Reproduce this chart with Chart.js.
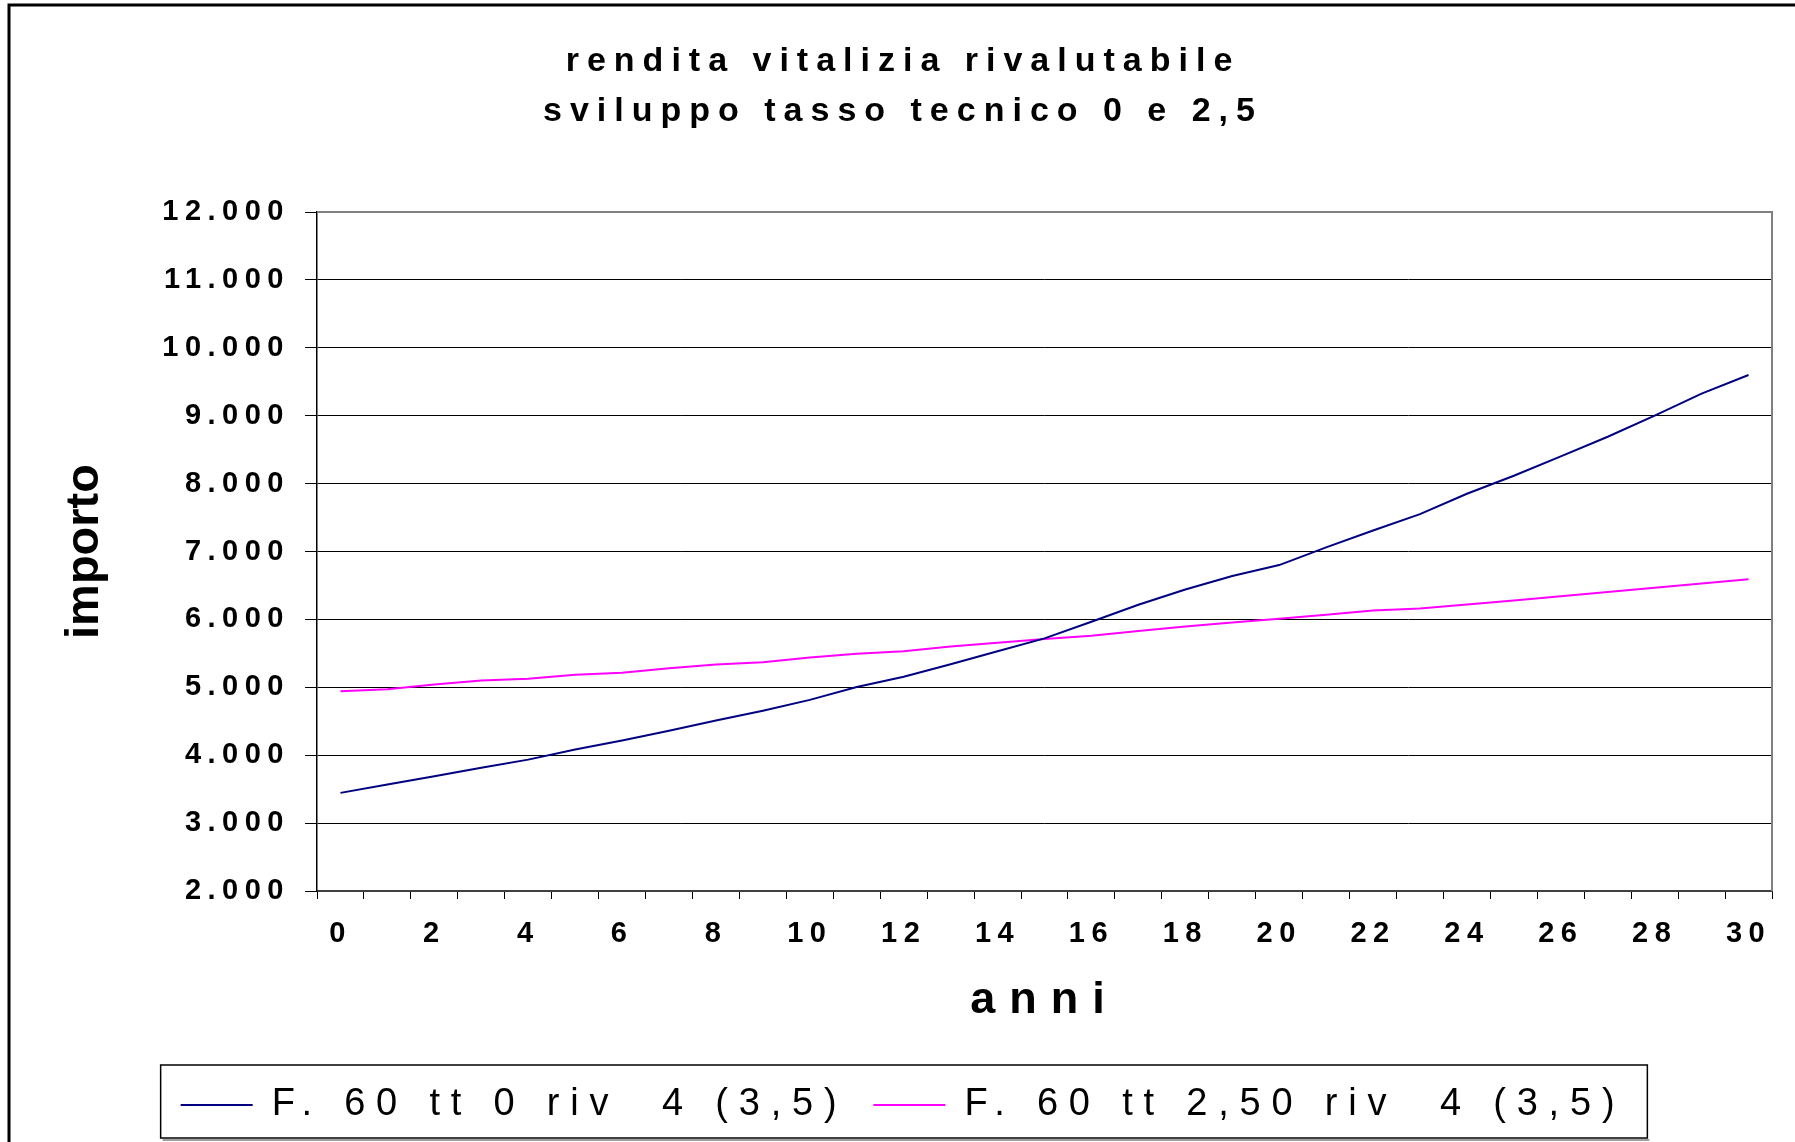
<!DOCTYPE html>
<html>
<head>
<meta charset="utf-8">
<script src="https://cdn.jsdelivr.net/npm/chart.js@4.4.1/dist/chart.umd.min.js"></script>
<style>
    html, body { margin: 0; padding: 0; background: #fff; }
    #wrap { position: relative; width: 1795px; height: 1142px; }
</style>
</head>
<body>
<div id="wrap"><canvas id="myChart"></canvas></div>
<script>
/* globals Chart:false */

// years on the x axis
const years = [0, 1, 2, 3, 4, 5, 6, 7, 8, 9, 10, 11, 12, 13, 14, 15,
    16, 17, 18, 19, 20, 21, 22, 23, 24, 25, 26, 27, 28, 29, 30]

// F. 60 tt 0 riv 4 (3,5)
const tt0 = [3445, 3570, 3690, 3815, 3935, 4085, 4215, 4360, 4510, 4655,
    4815, 5005, 5155, 5340, 5530, 5720, 5965, 6215, 6440, 6640,
    6800, 7060, 7310, 7550, 7850, 8115, 8400, 8690, 9000, 9325, 9600]

// F. 60 tt 2,50 riv 4 (3,5)
const tt250 = [4940, 4970, 5040, 5100, 5125, 5185, 5215, 5280, 5335, 5370,
    5440, 5495, 5530, 5600, 5655, 5710, 5760, 5830, 5895, 5955,
    6010, 6070, 6130, 6160, 6220, 6280, 6340, 6405, 6465, 6530, 6590]

const yTickLabels = ['2.000', '3.000', '4.000', '5.000', '6.000', '7.000',
    '8.000', '9.000', '10.000', '11.000', '12.000']

const seriesNames = ['F. 60 tt 0 riv  4 (3,5)', 'F. 60 tt 2,50 riv  4 (3,5)']
const titleLines = ['rendita vitalizia rivalutabile', 'sviluppo tasso tecnico 0 e 2,5']

const FONT = '"Liberation Sans", Arial, sans-serif'

// the old excel picture has very wide text, fake it with letter spacing per font size
const spacing = {34: 8, 29: 6.5, 38: 10.8, 45: 14}

const canvas = document.getElementById('myChart')
const ctx = canvas.getContext('2d')

function setSpacing(c) {
    const m = c.font.match(/(\d+(?:\.\d+)?)px/)
    const s = m ? (spacing[Math.round(parseFloat(m[1]))] || 0) : 0
    c.letterSpacing = s + 'px'
}
const origFill = ctx.fillText
ctx.fillText = function (...args) {
    setSpacing(this)
    return origFill.apply(this, args)
}
const origMeasure = ctx.measureText
ctx.measureText = function (...args) {
    setSpacing(this)
    return origMeasure.apply(this, args)
}

const framePlugin = {
    id: 'frame',
    beforeDraw(chart) {
        const c = chart.ctx
        c.save()
        c.strokeStyle = '#000'
        c.lineWidth = 3
        c.beginPath()
        c.moveTo(9, chart.height)
        c.lineTo(9, 5)
        c.lineTo(chart.width, 5)
        c.stroke()
        c.restore()
    },
    beforeDatasetsDraw(chart) {
        // top and right edge of the plot area are grey
        const a = chart.chartArea
        const c = chart.ctx
        c.save()
        c.strokeStyle = '#808080'
        c.lineWidth = 2
        c.beginPath()
        c.moveTo(a.left, a.top)
        c.lineTo(a.right, a.top)
        c.lineTo(a.right, a.bottom)
        c.stroke()
        c.restore()
    },
    afterDraw(chart) {
        // box round the legend
        const hb = chart.legend.legendHitBoxes
        if (!hb || !hb.length) return
        const l = Math.min(...hb.map(h => h.left)) - 20
        const r = Math.max(...hb.map(h => h.left + h.width)) + 22
        const t = hb[0].top - 21
        const c = chart.ctx
        c.save()
        c.strokeStyle = '#000'
        c.lineWidth = 1.5
        c.strokeRect(l, t, r - l, 73)
        c.strokeStyle = '#808080'
        c.beginPath()
        c.moveTo(l + 2, t + 75)
        c.lineTo(r + 2, t + 75)
        c.stroke()
        c.restore()
    }
}

const myChart = new Chart(canvas, {
    type: 'line',
    plugins: [framePlugin],
    data: {
        labels: years,
        datasets: [{
            label: seriesNames[0],
            data: tt0,
            borderColor: '#000080',
            backgroundColor: '#000080',
            borderWidth: 2,
            pointRadius: 0,
            tension: 0
        }, {
            label: seriesNames[1],
            data: tt250,
            borderColor: '#ff00ff',
            backgroundColor: '#ff00ff',
            borderWidth: 2,
            pointRadius: 0,
            tension: 0
        }]
    },
    options: {
        responsive: true,
        maintainAspectRatio: false,
        animation: false,
        devicePixelRatio: 1,
        layout: {
            padding: {left: 34, right: 23, top: 0, bottom: 8}
        },
        plugins: {
            title: {
                display: true,
                text: titleLines,
                color: '#000',
                font: {family: FONT, size: 34, weight: 'bold', lineHeight: '50px'},
                padding: {top: 37, bottom: 75}
            },
            legend: {
                position: 'bottom',
                labels: {
                    color: '#000',
                    font: {family: FONT, size: 38},
                    usePointStyle: true,
                    pointStyle: 'line',
                    pointStyleWidth: 72,
                    boxWidth: 72,
                    padding: 26
                }
            },
            tooltip: {enabled: false}
        },
        scales: {
            x: {
                offset: true,
                afterFit(scale) {
                    scale.height = 169
                },
                grid: {
                    drawOnChartArea: false,
                    color: '#000',
                    tickLength: 8,
                    offset: true
                },
                border: {color: '#404040', width: 2},
                ticks: {
                    autoSkip: false,
                    maxRotation: 0,
                    color: '#000',
                    padding: 17.5,
                    font: {family: FONT, size: 29, weight: 'bold'},
                    callback: function (value, index) {
                        return index % 2 === 0 ? String(years[index]) : ''
                    }
                },
                title: {
                    display: true,
                    text: 'anni',
                    color: '#000',
                    font: {family: FONT, size: 45, weight: 'bold'},
                    padding: {top: 0, bottom: 32}
                }
            },
            y: {
                min: 2000,
                max: 12000,
                afterFit(scale) {
                    scale.width = 283
                },
                grid: {
                    color: '#000',
                    lineWidth: 1,
                    tickLength: 12
                },
                border: {color: '#000', width: 1.5},
                ticks: {
                    stepSize: 1000,
                    color: '#000',
                    padding: 15,
                    font: {family: FONT, size: 29, weight: 'bold'},
                    callback: function (value, index) {
                        return yTickLabels[index]
                    }
                },
                title: {
                    display: true,
                    text: 'importo',
                    color: '#000',
                    font: {family: FONT, size: 47, weight: 'bold'},
                    padding: {top: 23, bottom: 0}
                }
            }
        }
    }
})
</script>
</body>
</html>
